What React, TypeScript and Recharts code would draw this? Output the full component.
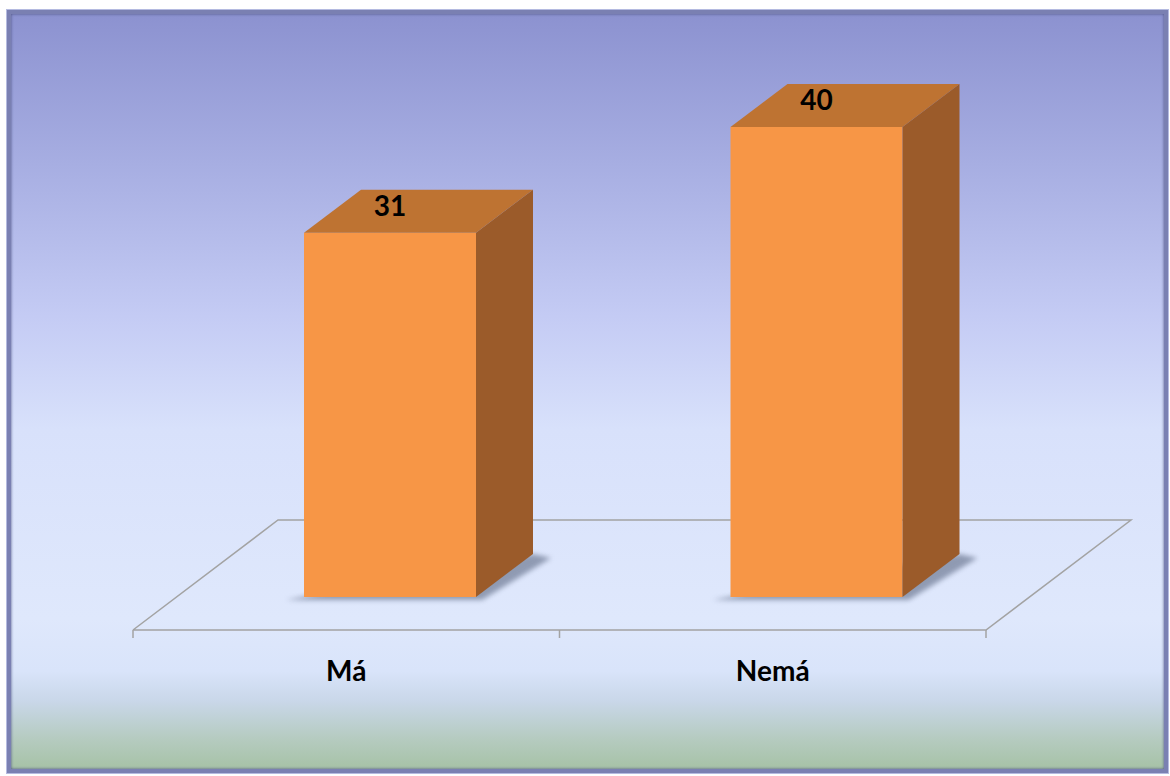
import { BarChart, Bar, XAxis, YAxis, LabelList, Customized } from 'recharts'

const categories = ['Má', 'Nemá']
const counts = [31, 40]
const yDomain = [0, 50]

const data = categories.map((name, i) => ({ name, value: counts[i] }))

const W = 1170
const H = 776
const AXIS_H = 60
const margin = { top: 9.5, right: 140, bottom: 119, left: 177 }
const PLOT_L = margin.left
const PLOT_R = W - margin.right
const PLOT_B = H - margin.bottom - AXIS_H
// depth offset of the 3d boxes
const DX = 57
const DY = 43
const FONT = 'Lato, "Open Sans", sans-serif'

function Floor() {
  const fy = PLOT_B + 33
  const by = PLOT_B - 77
  const fl = PLOT_L - 44
  const fr = PLOT_R - 44
  const bl = PLOT_L + 101
  const br = PLOT_R + 101
  const mid = (fl + fr) / 2
  const line = { stroke: '#a3a3a3', strokeWidth: 1.5, fill: 'none' }
  return (
    <g>
      <defs>
        <filter id="shadowBlur" x="-20%" y="-50%" width="140%" height="200%">
          <feGaussianBlur stdDeviation="2.5" />
        </filter>
      </defs>
      <polyline points={`${fl},${fy} ${bl},${by} ${br},${by} ${fr},${fy} ${fl},${fy}`} {...line} />
      {[fl, mid, fr].map((tx, i) => (
        <line key={i} x1={tx} y1={fy} x2={tx} y2={fy + 8} {...line} />
      ))}
    </g>
  )
}

function Box(props: any) {
  const { x, y, width, height } = props
  if (!height) return null
  const b = y + height
  const r = x + width
  return (
    <g>
      <polygon
        points={`${x - 18},${b + 3} ${r + 6},${b + 3} ${r + DX + 18},${b - DY + 4} ${r + DX},${b - DY}`}
        fill="#66728c"
        opacity={0.65}
        filter="url(#shadowBlur)"
      />
      <rect x={x} y={y} width={width} height={height} fill="#F79646" />
      <polygon points={`${x},${y} ${x + DX},${y - DY} ${r + DX},${y - DY} ${r},${y}`} fill="#BE7332" />
      <polygon points={`${r},${y} ${r + DX},${y - DY} ${r + DX},${b - DY} ${r},${b}`} fill="#9B5B2A" />
    </g>
  )
}

function TopLabel(props: any) {
  const { x, y, width, value } = props
  return (
    <text
      x={x + width / 2}
      y={y - 28}
      textAnchor="middle"
      dominantBaseline="central"
      fontSize={28}
      fontWeight={700}
      fontFamily={FONT}
      fill="#000"
    >
      {value}
    </text>
  )
}

function CategoryTick(props: any) {
  const { x, payload } = props
  return (
    <text
      x={x - 44}
      y={PLOT_B + 73}
      textAnchor="middle"
      dominantBaseline="central"
      fontSize={28}
      fontWeight={700}
      fontFamily={FONT}
      fill="#000"
    >
      {payload.value}
    </text>
  )
}

export default function App() {
  return (
    <div style={{ position: 'absolute', left: 0, top: 0, width: W, height: H, background: '#fff' }}>
      <div
        style={{
          position: 'absolute',
          left: 7,
          top: 10,
          width: 1161,
          height: 763,
          boxSizing: 'border-box',
          border: '4px solid #7a80b2',
          boxShadow: 'inset 0 0 3px #4c5282, 0 0 0 1px #b4bae0',
          background:
            'linear-gradient(to bottom, #8c92d0 0%, #a7aee2 20%, #c4cbf4 40%, #d8e1fb 55%, #dfe8fc 80%, #d9e4fa 87%, #c9d7e9 91%, #b5cbc0 96%, #a6c2a6 100%)',
        }}
      />
      <div style={{ position: 'absolute', left: 0, top: 0 }}>
        <BarChart width={W} height={H} data={data} margin={margin}>
          <Customized component={Floor} />
          <XAxis
            dataKey="name"
            height={AXIS_H}
            axisLine={false}
            tickLine={false}
            tick={<CategoryTick />}
            interval={0}
          />
          <YAxis hide domain={yDomain} />
          <Bar dataKey="value" barSize={172} shape={<Box />} isAnimationActive={false}>
            <LabelList dataKey="value" content={<TopLabel />} />
          </Bar>
        </BarChart>
      </div>
    </div>
  )
}
